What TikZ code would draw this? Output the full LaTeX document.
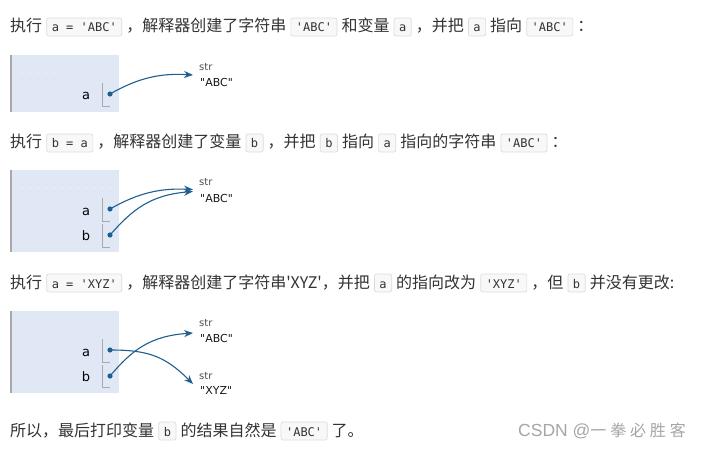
\documentclass[tikz,border=0pt]{standalone}
\usepackage{fontspec}
\usetikzlibrary{arrows.meta}
\setmainfont{Noto Sans CJK SC}[Ligatures=TeXOff]
\newfontfamily\cjk{Noto Sans CJK SC}[Ligatures=TeXOff]
\newfontfamily\cmono{DejaVu Sans Mono}[Ligatures=TeXOff]
\newfontfamily\dsans{DejaVu Sans}[Ligatures=TeXOff]
\newfontfamily\wmfont{Noto Sans CJK SC}[LetterSpace=24]
\newfontfamily\wmlatin{Liberation Sans}
\definecolor{txt}{HTML}{333333}
\definecolor{codebd}{HTML}{DCDCDC}
\definecolor{codebg}{HTML}{F8F8F8}
\definecolor{framefill}{HTML}{E0E8F6}
\definecolor{frameedge}{HTML}{A8A8A8}
\definecolor{ptr}{HTML}{1F5F8F}
\definecolor{brk}{HTML}{AAAAAA}
\definecolor{wm}{HTML}{A6A6A6}
\tikzset{
  codebox/.style={draw=codebd, fill=codebg, rounded corners=2pt, line width=0.7pt,
    inner xsep=5pt, inner ysep=2.5pt, text height=11.5pt, text depth=1.5pt,
    text=txt, font=\cmono\fontsize{12}{14}\selectfont},
  para/.style={inner sep=0pt, text=txt, font=\cjk\fontsize{16}{20}\selectfont, anchor=base west},
  framebox/.style={fill=framefill, draw=none, anchor=north west, inner sep=0pt, minimum width=108pt},
  varlbl/.style={inner sep=0pt, anchor=base, text=black, font=\dsans\fontsize{13}{15}\selectfont},
  typlbl/.style={inner sep=0pt, anchor=base west, text=black!70, font=\dsans\fontsize{10}{12}\selectfont},
  vallbl/.style={inner sep=0pt, anchor=base west, text=black!90, font=\dsans\fontsize{11}{13}\selectfont},
  dot/.style={circle, fill=ptr, inner sep=0pt, minimum size=5.2pt},
  brkline/.style={draw=brk, line width=0.9pt},
  ptrarrow/.style={draw=ptr, line width=1.1pt, -{Stealth[length=9pt,width=7pt,inset=3pt]}},
  edge/.style={draw=frameedge, line width=1.3pt},
  faint/.style={draw=white, draw opacity=0.45, line width=0.8pt, dash pattern=on 3pt off 5pt}
}
\newcommand{\cd}[1]{\hspace{4.2pt}\tikz[baseline=(cb.base)]\node(cb)[codebox]{#1};\hspace{4.2pt}}
\begin{document}
\begin{tikzpicture}[x=1pt,y=-1pt]
\useasboundingbox (0,0) rectangle (703,449);
\fill[white] (0,0) rectangle (703,449);

% ---------- line 1
\node[para] (l1) at (10,32) {执行\cd{a = 'ABC'}，解释器创建了字符串\cd{'ABC'}和变量\cd{a}，并把\cd{a}指向\cd{'ABC'}：};

% ---------- diagram 1
\node[framebox, minimum height=57pt] (f1) at (11,55) {};
\draw[edge] (f1.north west) -- (f1.south west);
\draw[faint] (20,73) -- (55,73);
\node[varlbl] (a1) at (86,100) {a};
\coordinate (a1t) at (102,83);
\coordinate (a1b) at (102,106);
\coordinate (a1r) at (110,106);
\draw[brkline] (a1t) -- (a1b) -- (a1r);
\node[dot] (pa1) at (110,94) {};
\node[typlbl] (s1) at (199,70.5) {str};
\node[vallbl] (v1) at (200,87) {"ABC"};
\coordinate (e1) at (193,75);
\draw[ptrarrow] (pa1.center) .. controls (138,78) and (160,73) .. (e1);

% ---------- line 2
\node[para] (l2) at (10,148) {执行\cd{b = a}，解释器创建了变量\cd{b}，并把\cd{b}指向\cd{a}指向的字符串\cd{'ABC'}：};

% ---------- diagram 2
\node[framebox, minimum height=82pt] (f2) at (11,170) {};
\draw[edge] (f2.north west) -- (f2.south west);
\draw[faint] (20,188) -- (112,188);
\node[varlbl] (a2) at (86,215) {a};
\node[varlbl] (b2) at (86,240) {b};
\coordinate (a2t) at (102,198);
\coordinate (a2b) at (102,221);
\coordinate (a2r) at (110,221);
\draw[brkline] (a2t) -- (a2b) -- (a2r);
\coordinate (b2t) at (102,224);
\coordinate (b2b) at (102,247);
\coordinate (b2r) at (110,247);
\draw[brkline] (b2t) -- (b2b) -- (b2r);
\node[dot] (pa2) at (110,209) {};
\node[dot] (pb2) at (110,235) {};
\node[typlbl] (s2) at (199,185) {str};
\node[vallbl] (v2) at (200,202) {"ABC"};
\coordinate (e2a) at (193,189.5);
\coordinate (e2b) at (193,191.5);
\draw[ptrarrow] (pa2.center) .. controls (138,193) and (160,188) .. (e2a);
\draw[ptrarrow] (pb2.center) .. controls (132,210) and (150,195) .. (e2b);

% ---------- line 3
\node[para] (l3) at (10,288) {执行\cd{a = 'XYZ'}，解释器创建了字符串'XYZ'，并把\cd{a}的指向改为\cd{'XYZ'}，但\cd{b}并没有更改:};

% ---------- diagram 3
\node[framebox, minimum height=82pt] (f3) at (11,311) {};
\draw[edge] (f3.north west) -- (f3.south west);
\node[varlbl] (a3) at (86,356) {a};
\node[varlbl] (b3) at (86,381) {b};
\coordinate (a3t) at (102,339);
\coordinate (a3b) at (102,362);
\coordinate (a3r) at (110,362);
\draw[brkline] (a3t) -- (a3b) -- (a3r);
\coordinate (b3t) at (102,365);
\coordinate (b3b) at (102,387);
\coordinate (b3r) at (110,387);
\draw[brkline] (b3t) -- (b3b) -- (b3r);
\node[dot] (pa3) at (110,350) {};
\node[dot] (pb3) at (110,376) {};
\node[typlbl] (s3) at (199,326) {str};
\node[vallbl] (v3) at (200,342) {"ABC"};
\node[typlbl] (s4) at (199,379) {str};
\node[vallbl] (v4) at (200,394) {"XYZ"};
\coordinate (e3b) at (193,333);
\coordinate (e3a) at (193,384);
\draw[ptrarrow] (pb3.center) .. controls (132,350) and (150,336) .. (e3b);
\draw[ptrarrow] (pa3.center) .. controls (148,350) and (165,356) .. (e3a);

% ---------- line 4
\node[para] (l4) at (10,436) {所以，最后打印变量\cd{b}的结果自然是\cd{'ABC'}了。};

% ---------- watermark
\node[inner sep=0pt, anchor=base west, text=wm, font=\fontsize{17.5}{20}\selectfont] (wm) at (518,436) {\wmlatin CSDN @\wmfont\fontsize{16}{20}\selectfont 一拳必胜客};
\end{tikzpicture}
\end{document}
